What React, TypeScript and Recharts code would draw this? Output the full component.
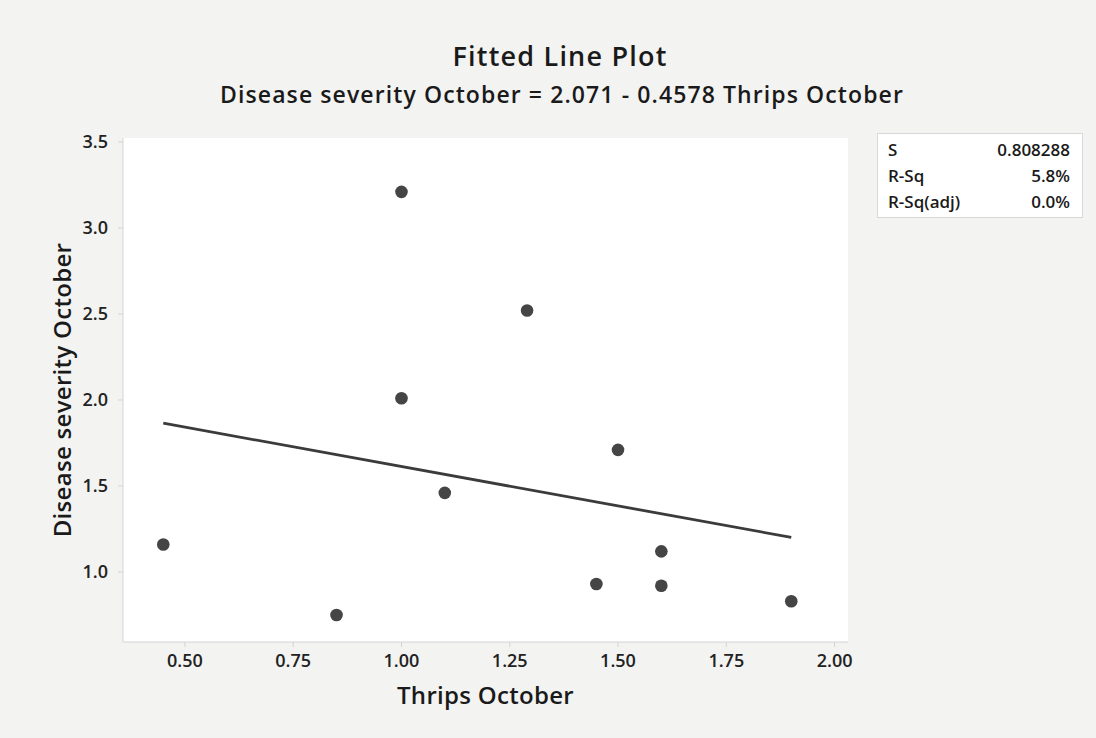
import React from 'react';
import { ScatterChart, Scatter, XAxis, YAxis, CartesianGrid } from 'recharts';

const thrips = [0.45, 0.85, 1.0, 1.0, 1.1, 1.29, 1.45, 1.5, 1.6, 1.6, 1.9];
const severity = [1.16, 0.75, 3.21, 2.01, 1.46, 2.52, 0.93, 1.71, 1.12, 0.92, 0.83];

const xTicks = [0.5, 0.75, 1.0, 1.25, 1.5, 1.75, 2.0];
const yTicks = [1.0, 1.5, 2.0, 2.5, 3.0, 3.5];

const intercept = 2.071;
const slope = -0.4578;

const statLabels = ['S', 'R-Sq', 'R-Sq(adj)'];
const statValues = ['0.808288', '5.8%', '0.0%'];

const points = thrips.map((x, i) => ({ x, y: severity[i] }));
const xMin = Math.min(...thrips);
const xMax = Math.max(...thrips);
const fitLine = [xMin, xMax].map(x => ({ x, y: intercept + slope * x }));

const font = '"Open Sans", "Noto Sans", sans-serif';
const tickStyle = { fontSize: 18, fill: '#222', fontWeight: 600, fontFamily: font };
const axisTitleStyle = { fontSize: 24, fontWeight: 600, fill: '#1a1a1a', fontFamily: font, letterSpacing: 0.3 };

export default function App() {
  return (
    <div
      style={{
        position: 'absolute',
        left: 0,
        top: 0,
        width: 1096,
        height: 738,
        background: '#f3f3f2',
        fontFamily: font,
      }}
    >
      <div
        style={{
          position: 'absolute',
          top: 37,
          left: 12,
          width: 1096,
          textAlign: 'center',
          fontSize: 27,
          fontWeight: 600,
          letterSpacing: 1.2,
          color: '#1a1a1a',
        }}
      >
        Fitted Line Plot
      </div>
      <div
        style={{
          position: 'absolute',
          top: 78,
          left: 14,
          width: 1096,
          textAlign: 'center',
          fontSize: 23,
          fontWeight: 600,
          letterSpacing: 1.1,
          color: '#1a1a1a',
        }}
      >
        Disease severity October = 2.071 - 0.4578 Thrips October
      </div>

      <ScatterChart
        width={1096}
        height={738}
        margin={{ top: 138, right: 248, bottom: 34, left: 53 }}
        style={{ position: 'absolute', left: 0, top: 0 }}
      >
        <CartesianGrid horizontal={false} vertical={false} fill="#ffffff" />
        <XAxis
          type="number"
          dataKey="x"
          domain={[0.357, 2.031]}
          ticks={xTicks}
          tickFormatter={(v: number) => v.toFixed(2)}
          allowDataOverflow
          height={62}
          tickSize={5}
          tickMargin={7}
          stroke="#d4d4d4"
          tick={tickStyle}
          label={{ value: 'Thrips October', position: 'insideBottom', offset: 0, style: axisTitleStyle }}
        />
        <YAxis
          type="number"
          dataKey="y"
          domain={[0.593, 3.523]}
          ticks={yTicks}
          tickFormatter={(v: number) => v.toFixed(1)}
          allowDataOverflow
          width={70}
          tickSize={5}
          tickMargin={10}
          stroke="#d4d4d4"
          tick={tickStyle}
          label={{
            value: 'Disease severity October',
            angle: -90,
            position: 'insideLeft',
            offset: 9,
            style: { ...axisTitleStyle, textAnchor: 'middle' },
          }}
        />
        <XAxis xAxisId="top" type="number" orientation="top" domain={[0.357, 2.031]} height={0} tick={false} tickLine={false} stroke="#d4d4d4" />
        <YAxis yAxisId="right" type="number" orientation="right" domain={[0.593, 3.523]} width={0} tick={false} tickLine={false} stroke="#d4d4d4" />
        <Scatter
          data={fitLine}
          line={{ stroke: '#3b3b3b', strokeWidth: 2.8 }}
          shape={() => null}
          isAnimationActive={false}
        />
        <Scatter
          data={points}
          fill="#454545"
          shape={(p: any) => <circle cx={p.cx} cy={p.cy} r={6.3} fill="#454545" />}
          isAnimationActive={false}
        />
      </ScatterChart>

      <div
        style={{
          position: 'absolute',
          left: 877,
          top: 133,
          width: 206,
          height: 85,
          background: '#ffffff',
          border: '1px solid #d8d8d8',
          boxSizing: 'border-box',
          padding: '3px 12px 0 10px',
          fontSize: 17,
          fontWeight: 600,
          color: '#1a1a1a',
          lineHeight: '26px',
        }}
      >
        {statLabels.map((s, i) => (
          <div key={s} style={{ display: 'flex', justifyContent: 'space-between' }}>
            <span>{s}</span>
            <span>{statValues[i]}</span>
          </div>
        ))}
      </div>
    </div>
  );
}
